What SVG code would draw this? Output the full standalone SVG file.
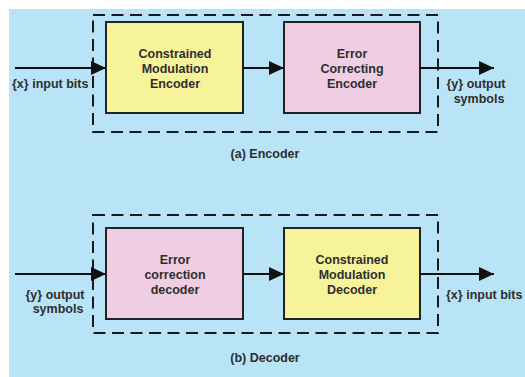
<svg xmlns="http://www.w3.org/2000/svg" width="525" height="377" viewBox="0 0 525 377">
  <defs>
    <marker id="arrow" viewBox="0 0 15 14" refX="15" refY="7" markerWidth="15" markerHeight="14" markerUnits="userSpaceOnUse" orient="auto">
      <path d="M0,0 L15,7 L0,14 Z" fill="#111"/>
    </marker>
  </defs>
  <style>
    .bg { fill: #b9e4f8; }
    .frame { fill: none; stroke: #1a1a1a; stroke-width: 2; stroke-dasharray: 12 6.5; }
    .yellow { fill: #f6f39b; stroke: #222; stroke-width: 2; }
    .pink { fill: #efcde2; stroke: #222; stroke-width: 2; }
    .wire { fill: none; stroke: #111; stroke-width: 2; marker-end: url(#arrow); }
    text { font-family: "Liberation Sans", Arial, sans-serif; font-size: 12.5px; font-weight: bold; fill: #2e2e2e; }
    .c { text-anchor: middle; }
  </style>

  <rect class="bg" x="9" y="9" width="516" height="368"/>

  <!-- (a) Encoder -->
  <g id="encoder-frame">
    <rect class="frame" x="93" y="15" width="345" height="117"/>
  </g>
  <g id="cm-encoder">
    <rect class="yellow" x="106" y="22" width="137" height="91"/>
    <text class="c" x="175" y="57.5">Constrained</text>
    <text class="c" x="175" y="72.5">Modulation</text>
    <text class="c" x="175" y="87.5">Encoder</text>
  </g>
  <g id="ec-encoder">
    <rect class="pink" x="284" y="22" width="136" height="91"/>
    <text class="c" x="352" y="57.5">Error</text>
    <text class="c" x="352" y="72.5">Correcting</text>
    <text class="c" x="352" y="87.5">Encoder</text>
  </g>
  <g id="enc-input-label">
    <text x="12" y="87.5">{x} input bits</text>
  </g>
  <g id="enc-output-label">
    <text class="c" x="476" y="87.5">{y} output</text>
    <text class="c" x="479" y="102.5">symbols</text>
  </g>
  <g id="enc-caption">
    <text class="c" x="265" y="158">(a) Encoder</text>
  </g>

  <!-- (b) Decoder -->
  <g id="decoder-frame">
    <rect class="frame" x="93" y="215" width="345" height="118"/>
  </g>
  <g id="ec-decoder">
    <rect class="pink" x="106" y="228" width="137" height="91"/>
    <text class="c" x="175" y="264">Error</text>
    <text class="c" x="175" y="279">correction</text>
    <text class="c" x="175" y="294">decoder</text>
  </g>
  <g id="cm-decoder">
    <rect class="yellow" x="284" y="228" width="136" height="91"/>
    <text class="c" x="352" y="264">Constrained</text>
    <text class="c" x="352" y="279">Modulation</text>
    <text class="c" x="352" y="294">Decoder</text>
  </g>
  <g id="dec-input-label">
    <text class="c" x="55" y="298.5">{y} output</text>
    <text class="c" x="58" y="313">symbols</text>
  </g>
  <g id="dec-output-label">
    <text x="446" y="299">{x} input bits</text>
  </g>
  <g id="dec-caption">
    <text class="c" x="265" y="362">(b) Decoder</text>
  </g>

  <g id="connectors">
    <line class="wire" x1="15" y1="68" x2="106" y2="68"/>
    <line class="wire" x1="243" y1="68" x2="284" y2="68"/>
    <line class="wire" x1="420" y1="68" x2="494" y2="68"/>
    <line class="wire" x1="15" y1="274" x2="106" y2="274"/>
    <line class="wire" x1="243" y1="274" x2="284" y2="274"/>
    <line class="wire" x1="420" y1="274" x2="494" y2="274"/>
  </g>
</svg>
